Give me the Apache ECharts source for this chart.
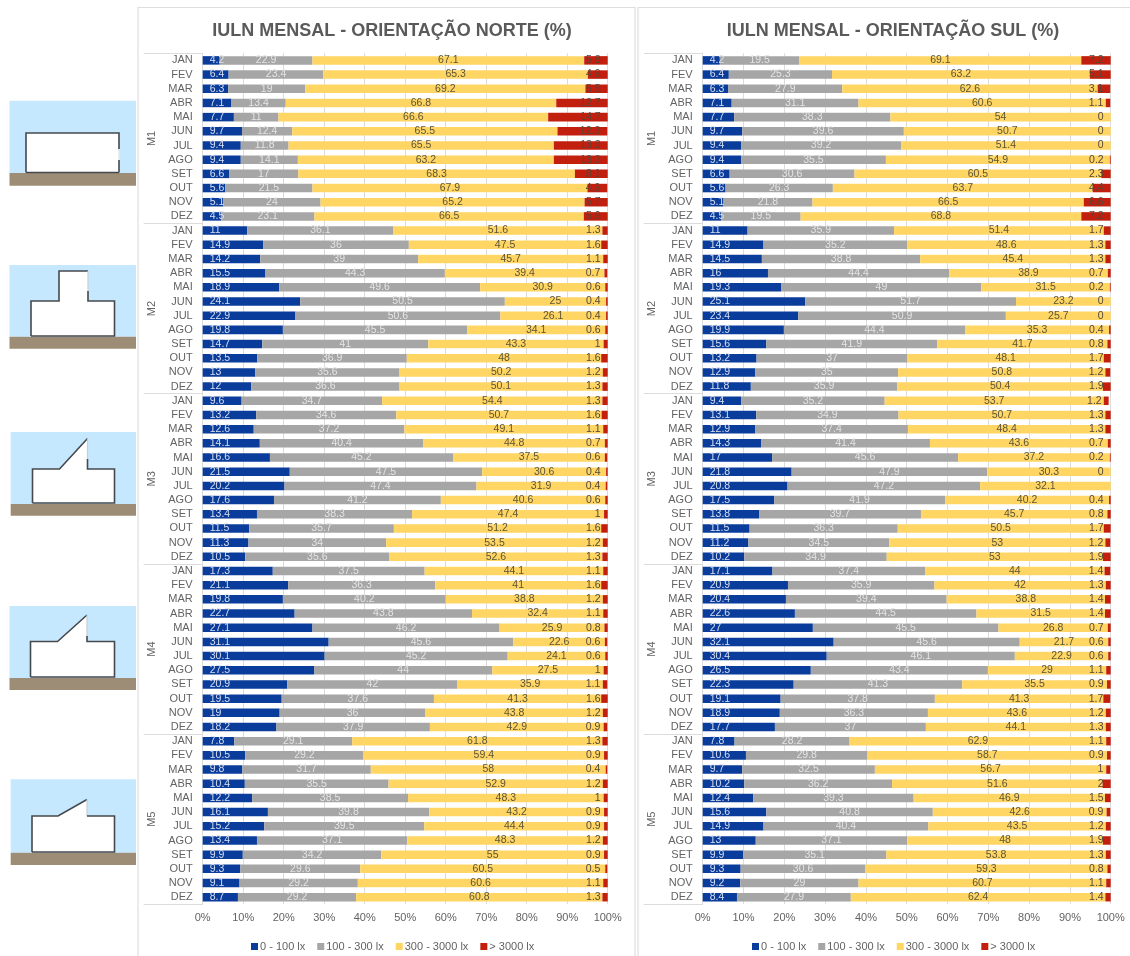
<!DOCTYPE html>
<html><head><meta charset="utf-8">
<script src="https://cdn.jsdelivr.net/npm/echarts@6/dist/echarts.min.js"></script>
<style>html,body{margin:0;padding:0;background:#fff}#c{width:1130px;height:956px}</style>
</head><body><div id="c"></div>
<script>
const months = ['JAN','FEV','MAR','ABR','MAI','JUN','JUL','AGO','SET','OUT','NOV','DEZ'];
const models = ['M1','M2','M3','M4','M5'];
const legendNames = ['0 - 100 lx','100 - 300 lx','300 - 3000 lx','> 3000 lx'];
const xTickStep = 10;

const northBlue = [
 4.2,6.4,6.3,7.1,7.7,9.7,9.4,9.4,6.6,5.6,5.1,4.5,
 11,14.9,14.2,15.5,18.9,24.1,22.9,19.8,14.7,13.5,13,12,
 9.6,13.2,12.6,14.1,16.6,21.5,20.2,17.6,13.4,11.5,11.3,10.5,
 17.3,21.1,19.8,22.7,27.1,31.1,30.1,27.5,20.9,19.5,19,18.2,
 7.8,10.5,9.8,10.4,12.2,16.1,15.2,13.4,9.9,9.3,9.1,8.7];
const northGray = [
 22.9,23.4,19,13.4,11,12.4,11.8,14.1,17,21.5,24,23.1,
 36.1,36,39,44.3,49.6,50.5,50.6,45.5,41,36.9,35.6,36.6,
 34.7,34.6,37.2,40.4,45.2,47.5,47.4,41.2,38.3,35.7,34,35.6,
 37.5,36.3,40.2,43.8,46.2,45.6,45.2,44,42,37.6,36,37.9,
 29.1,29.2,31.7,35.5,38.5,39.8,39.5,37.1,34.2,29.6,29.2,29.2];
const northYellow = [
 67.1,65.3,69.2,66.8,66.6,65.5,65.5,63.2,68.3,67.9,65.2,66.5,
 51.6,47.5,45.7,39.4,30.9,25,26.1,34.1,43.3,48,50.2,50.1,
 54.4,50.7,49.1,44.8,37.5,30.6,31.9,40.6,47.4,51.2,53.5,52.6,
 44.1,41,38.8,32.4,25.9,22.6,24.1,27.5,35.9,41.3,43.8,42.9,
 61.8,59.4,58,52.9,48.3,43.2,44.4,48.3,55,60.5,60.6,60.8];
const northRed = [
 5.8,4.9,5.5,12.7,14.7,12.3,13.3,13.3,8.1,4.9,5.7,5.9,
 1.3,1.6,1.1,0.7,0.6,0.4,0.4,0.6,1,1.6,1.2,1.3,
 1.3,1.6,1.1,0.7,0.6,0.4,0.4,0.6,1,1.6,1.2,1.3,
 1.1,1.6,1.2,1.1,0.8,0.6,0.6,1,1.1,1.6,1.2,0.9,
 1.3,0.9,0.4,1.2,1,0.9,0.9,1.2,0.9,0.5,1.1,1.3];

const southBlue = [
 4.2,6.4,6.3,7.1,7.7,9.7,9.4,9.4,6.6,5.6,5.1,4.5,
 11,14.9,14.5,16,19.3,25.1,23.4,19.9,15.6,13.2,12.9,11.8,
 9.4,13.1,12.9,14.3,17,21.8,20.8,17.5,13.8,11.5,11.2,10.2,
 17.1,20.9,20.4,22.6,27,32.1,30.4,26.5,22.3,19.1,18.9,17.7,
 7.8,10.6,9.7,10.2,12.4,15.6,14.9,13,9.9,9.3,9.2,8.4];
const southGray = [
 19.5,25.3,27.9,31.1,38.3,39.6,39.2,35.5,30.6,26.3,21.8,19.5,
 35.9,35.2,38.8,44.4,49,51.7,50.9,44.4,41.9,37,35,35.9,
 35.2,34.9,37.4,41.4,45.6,47.9,47.2,41.9,39.7,36.3,34.5,34.9,
 37.4,35.9,39.4,44.5,45.5,45.6,46.1,43.4,41.3,37.8,36.3,37,
 28.2,29.8,32.5,36.2,39.3,40.8,40.4,37.1,35.1,30.6,29,27.9];
const southYellow = [
 69.1,63.2,62.6,60.6,54,50.7,51.4,54.9,60.5,63.7,66.5,68.8,
 51.4,48.6,45.4,38.9,31.5,23.2,25.7,35.3,41.7,48.1,50.8,50.4,
 53.7,50.7,48.4,43.6,37.2,30.3,32.1,40.2,45.7,50.5,53,53,
 44,42,38.8,31.5,26.8,21.7,22.9,29,35.5,41.3,43.6,44.1,
 62.9,58.7,56.7,51.6,46.9,42.6,43.5,48,53.8,59.3,60.7,62.4];
const southRed = [
 7.2,5.1,3.1,1.1,0,0,0,0.2,2.3,4.4,6.6,7.2,
 1.7,1.3,1.3,0.7,0.2,0,0,0.4,0.8,1.7,1.2,1.9,
 1.2,1.3,1.3,0.7,0.2,0,0,0.4,0.8,1.7,1.2,1.9,
 1.4,1.3,1.4,1.4,0.7,0.6,0.6,1.1,0.9,1.7,1.2,1.3,
 1.1,0.9,1,2,1.5,0.9,1.2,1.9,1.3,0.8,1.1,1.4];

const FONT = '"Liberation Sans", Arial, sans-serif';
const TXT = '#636363', GRID = '#dcdcdc';
const COL = ['#0A3D9B','#A6A6A6','#FFD563','#C21F0F'];
const monthCats = models.flatMap(() => months);

function mkSeries(grid, vals) {
  const lab = [
    {position:'insideLeft', distance:7, color:'#d8dff0'},
    {position:'inside', color:'#e4e4e4'},
    {position:'inside', color:'#5c5536'},
    {position:'insideRight', distance:7, color:'#54483a'}
  ];
  return vals.map((d,i)=>({
    type:'bar', name:legendNames[i], stack:'s'+grid, xAxisIndex:grid, yAxisIndex:grid*2,
    data:d, barCategoryGap:'40%', itemStyle:{color:COL[i]},
    label:Object.assign({show:true, fontSize:10.5, fontFamily:FONT, hideOverlap:false}, lab[i]),
    labelLayout:{hideOverlap:false},
    silent:true, animation:false
  }));
}
function xAxis(g){return {gridIndex:g,type:'value',min:0,max:100,interval:xTickStep,
  axisLine:{show:false},axisTick:{show:false},
  splitLine:{show:true,lineStyle:{color:GRID,width:1}},
  axisLabel:{formatter:'{value}%',color:TXT,fontSize:11,fontFamily:FONT,margin:8}};}
function yAxes(g){return [
 {gridIndex:g,type:'category',inverse:true,data:monthCats,
  axisLine:{show:true,lineStyle:{color:GRID}},axisTick:{show:false},
  axisLabel:{interval:0,color:TXT,fontSize:11,fontFamily:FONT,margin:10}},
 {gridIndex:g,type:'category',inverse:true,data:models,position:'left',
  axisLine:{show:false},axisTick:{show:true,length:59,lineStyle:{color:GRID,width:1}},
  axisLabel:{interval:0,rotate:90,color:TXT,fontSize:11,fontFamily:FONT,margin:45}}
];}
function legend(left){return {left:left,top:936,itemWidth:7,itemHeight:7,itemGap:12,icon:'rect',
  selectedMode:false,data:legendNames,
  textStyle:{color:TXT,fontSize:11,fontFamily:FONT,padding:[0,0,0,-3]}};}

const SKY='#C5E8FF', SOIL='#9E8D76', WALL='#45494d';
function rect(x,y,w,h,fill,z){return {type:'rect',z:z||1,silent:true,shape:{x,y,width:w,height:h},style:{fill}};}
function poly(points,fill,z){return {type:'polygon',z:z||2,silent:true,shape:{points},style:{fill:fill,stroke:'none'}};}
function line(points,c,w){return {type:'polyline',z:3,silent:true,shape:{points},style:{stroke:c||WALL,lineWidth:w||1.6,fill:'none'}};}
function scene(sx,sy,gy,gb){return [rect(sx,sy,136-sx,gy-sy,SKY),rect(sx,gy,136-sx,gb-gy,SOIL)];}

const icons = [
 ...scene(9.5,100.7,173,185.7),
 rect(26,133,93,39.5,'#fff',2),
 line([[26,172.5],[26,133],[119,133],[119,149]]), line([[119,149],[119,160]],'#e6e6e6'), line([[119,160],[119,172.5]]), line([[26,172.5],[119,172.5]]),

 ...scene(9.5,265,336.7,348.7),
 poly([[31,336],[31,301],[59,301],[59,271],[88,271],[88,301],[114.5,301],[114.5,336]],'#fff'),
 line([[31,336],[31,301],[59,301],[59,271],[88,271]]), line([[88,271],[88,291]],'#c8ced2',1.2),
 line([[88,291],[88,301],[114.5,301],[114.5,336],[31,336]]),

 ...scene(10.7,432,504,515.7),
 poly([[32.5,503],[32.5,469],[59.5,469],[87.5,438.5],[87.5,469],[114.5,469],[114.5,503]],'#fff'),
 line([[32.5,503],[32.5,469],[59.5,469],[87.5,438.5]]), line([[87.5,438.5],[87.5,459]],'#c8ced2',1.2),
 line([[87.5,459],[87.5,469],[114.5,469],[114.5,503],[32.5,503]]),

 ...scene(9.5,606,678,690),
 poly([[30.5,677],[30.5,641.5],[57.5,641.5],[87,615],[87,641.5],[114.5,641.5],[114.5,677]],'#fff'),
 line([[30.5,677],[30.5,641.5],[57.5,641.5],[87,615]]), line([[87,615],[87,636]],'#c8ced2',1.2),
 line([[87,636],[87,641.5],[114.5,641.5],[114.5,677],[30.5,677]]),

 ...scene(10.7,779.3,852.7,865),
 poly([[32,852],[32,816],[58,816],[87,799.5],[87,816],[114.5,816],[114.5,852]],'#fff'),
 line([[32,852],[32,816],[58,816],[87,799.5]]), line([[87,799.5],[87,816]],'#c8ced2',1.2),
 line([[87,816],[114.5,816],[114.5,852],[32,852]])
];

const panels = [
 {type:'rect',z:0,silent:true,shape:{x:138,y:7.5,width:497,height:960},style:{fill:'#fff',stroke:'#dedede',lineWidth:1.2}},
 {type:'rect',z:0,silent:true,shape:{x:638,y:7.5,width:510,height:960},style:{fill:'#fff',stroke:'#dedede',lineWidth:1.2}}
];

const chart = echarts.init(document.getElementById('c'),null,{renderer:'canvas'});
chart.setOption({
  animation:false, backgroundColor:'#fff',
  textStyle:{fontFamily:FONT},
  title:[
   {text:'IULN MENSAL - ORIENTAÇÃO NORTE (%)',left:387,top:17,textAlign:'center',
    textStyle:{color:'#5a5a5a',fontSize:18,fontWeight:'bold',fontFamily:FONT}},
   {text:'IULN MENSAL - ORIENTAÇÃO SUL (%)',left:888,top:17,textAlign:'center',
    textStyle:{color:'#5a5a5a',fontSize:18,fontWeight:'bold',fontFamily:FONT}}
  ],
  grid:[
   {left:202.7,top:53.3,width:405,height:851},
   {left:702.7,top:53.3,width:408,height:851}
  ],
  xAxis:[xAxis(0),xAxis(1)],
  yAxis:[...yAxes(0),...yAxes(1)],
  legend:[legend(246),legend(747)],
  series:[
   ...mkSeries(0,[northBlue,northGray,northYellow,northRed]),
   ...mkSeries(1,[southBlue,southGray,southYellow,southRed])
  ],
  graphic:{elements:[...panels,...icons]}
});
</script></body></html>
